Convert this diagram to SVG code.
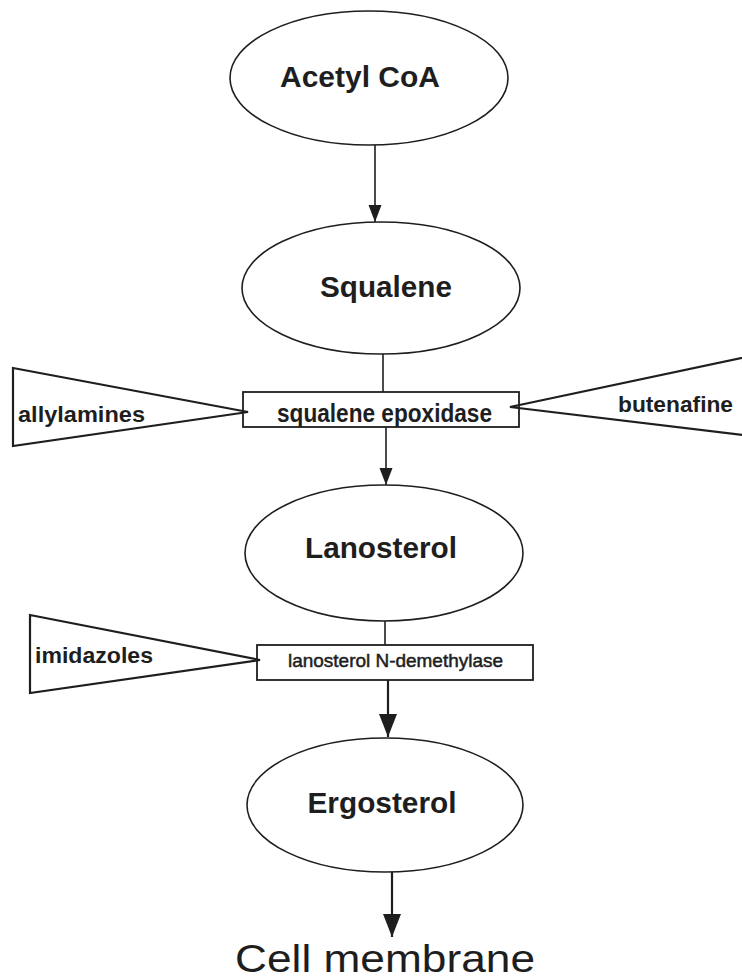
<svg xmlns="http://www.w3.org/2000/svg" width="742" height="980" viewBox="0 0 742 980">
<style>
.bg{fill:#fff}
.node ellipse{fill:#fff;stroke:#1e1e1e;stroke-width:1.6}
.enz rect{fill:none;stroke:#1e1e1e;stroke-width:1.8}
.inh polygon,.inh polyline{fill:none;stroke:#1e1e1e;stroke-width:2.2;stroke-linejoin:miter}
.lbl{font-family:"Liberation Sans",Arial,sans-serif;font-weight:bold;fill:#1e1e1e}
.big{font-size:29px}
.mid{font-size:22px}
.enzt{font-size:25px}
.small{font-family:"Liberation Sans",Arial,sans-serif;font-size:18.5px;fill:#1e1e1e;stroke:#1e1e1e;stroke-width:0.5}
.out{font-family:"Liberation Sans",Arial,sans-serif;font-size:38px;fill:#1e1e1e}
.conn line{stroke:#1e1e1e;stroke-width:1.6}
.conn line.thick{stroke-width:2.2}
</style>
<defs>
<marker id="arrS" markerUnits="userSpaceOnUse" markerWidth="18" markerHeight="14" refX="17" refY="6.5" orient="auto">
<path d="M0,0 L17,6.5 L0,13 z" fill="#1e1e1e"/>
</marker>
<marker id="arrL" markerUnits="userSpaceOnUse" markerWidth="24" markerHeight="19" refX="23" refY="9" orient="auto">
<path d="M0,0 L23,9 L0,18 z" fill="#1e1e1e"/>
</marker>
</defs>
<rect class="bg" x="0" y="0" width="742" height="980"/>

<g id="acetyl-coa" class="node">
<ellipse cx="369" cy="78" rx="139" ry="67"/>
<text class="lbl big" x="360" y="87" text-anchor="middle" textLength="160" lengthAdjust="spacingAndGlyphs">Acetyl CoA</text>
</g>

<g id="squalene" class="node">
<ellipse cx="381" cy="288" rx="139" ry="66"/>
<text class="lbl big" x="386" y="297" text-anchor="middle" textLength="132" lengthAdjust="spacingAndGlyphs">Squalene</text>
</g>

<g id="lanosterol" class="node">
<ellipse cx="384" cy="553" rx="139" ry="68"/>
<text class="lbl big" x="381" y="558" text-anchor="middle" textLength="152" lengthAdjust="spacingAndGlyphs">Lanosterol</text>
</g>

<g id="ergosterol" class="node">
<ellipse cx="385" cy="805" rx="138" ry="67"/>
<text class="lbl big" x="382" y="813" text-anchor="middle" textLength="149" lengthAdjust="spacingAndGlyphs">Ergosterol</text>
</g>

<g id="cell-membrane">
<text class="out" x="385" y="972" text-anchor="middle" textLength="300" lengthAdjust="spacingAndGlyphs">Cell membrane</text>
</g>

<g id="squalene-epoxidase" class="enz">
<rect x="243" y="392" width="276" height="35"/>
<text class="lbl enzt" x="384.5" y="422" text-anchor="middle" textLength="215" lengthAdjust="spacingAndGlyphs">squalene epoxidase</text>
</g>

<g id="lanosterol-n-demethylase" class="enz">
<rect x="257" y="645" width="276" height="35"/>
<text class="small" x="395.5" y="667" text-anchor="middle" textLength="215" lengthAdjust="spacingAndGlyphs">lanosterol N-demethylase</text>
</g>

<g id="allylamines" class="inh">
<polygon points="13,368 248,412 13,446"/>
<text class="lbl mid" x="18" y="422" textLength="127" lengthAdjust="spacingAndGlyphs">allylamines</text>
</g>

<g id="butenafine" class="inh">
<polyline points="760,354 510,407 760,437"/>
<text class="lbl mid" x="618" y="412" textLength="115" lengthAdjust="spacingAndGlyphs">butenafine</text>
</g>

<g id="imidazoles" class="inh">
<polygon points="30,615 260,660 30,693"/>
<text class="lbl mid" x="35" y="663" textLength="118" lengthAdjust="spacingAndGlyphs">imidazoles</text>
</g>

<g id="connectors" class="conn">
<line x1="375" y1="145" x2="375" y2="222" marker-end="url(#arrS)"/>
<line x1="383" y1="354" x2="383" y2="392"/>
<line x1="386" y1="427" x2="386" y2="485" marker-end="url(#arrS)"/>
<line x1="385" y1="621" x2="385" y2="645"/>
<line class="thick" x1="388" y1="680" x2="388" y2="737" marker-end="url(#arrL)"/>
<line class="thick" x1="392" y1="872" x2="392" y2="937" marker-end="url(#arrL)"/>
</g>
</svg>
